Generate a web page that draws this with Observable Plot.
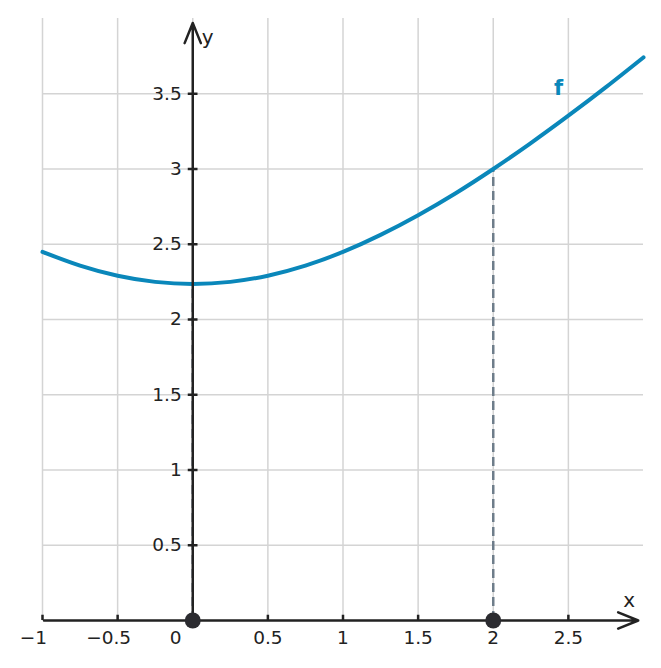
<!DOCTYPE html>
<html>
<head>
<meta charset="utf-8">
<script src="https://cdn.jsdelivr.net/npm/d3@7"></script>
<script src="https://cdn.jsdelivr.net/npm/@observablehq/plot@0.6"></script>
<style>
  html, body { margin: 0; padding: 0; background: #fff; }
</style>
</head>
<body>
<div id="chart"></div>
<script>
// Curve samples
const fx = [-1, -0.75, -0.5, -0.25, 0, 0.25, 0.5, 0.75, 1, 1.25, 1.5, 1.75, 2, 2.25, 2.5, 2.75, 3];
const fy = [2.449, 2.358, 2.291, 2.250, 2.236, 2.250, 2.291, 2.358, 2.449, 2.562, 2.693, 2.839, 3.0, 3.172, 3.354, 3.544, 3.742];

const xGrid = [-1, -0.5, 0, 0.5, 1, 1.5, 2, 2.5];
const yGrid = [0.5, 1, 1.5, 2, 2.5, 3, 3.5];
const xTicks = [-1, -0.5, 0.5, 1, 1.5, 2.5];
const xTickLabels = [-1, -0.5, 0, 0.5, 1, 1.5, 2, 2.5];
const yTicks = [0.5, 1, 1.5, 2, 2.5, 3, 3.5];
const pointsX = [0, 2];
const dropX = [0, 2];
const dropY = [2.236, 3.0];

const curve = fx.map((x, i) => ({x, y: fy[i]}));
const drops = dropX.map((x, i) => ({x, y: dropY[i]}));

const blue = "#0a87ba";
const ink = "#222222";
const fmt = d => (d < 0 ? "\u2212" + String(-d) : String(d));

const chart = Plot.plot({
  width: 661,
  height: 668,
  marginLeft: 42,
  marginRight: 18,
  marginTop: 18,
  marginBottom: 48,
  x: {domain: [-1, 3], axis: null},
  y: {domain: [0, 4], axis: null},
  style: {fontFamily: "DejaVu Sans, sans-serif", background: "#fff", overflow: "visible"},
  marks: [
    Plot.ruleX(xGrid, {x: d => d, stroke: "#d4d4d4", strokeWidth: 1.5}),
    Plot.ruleY(yGrid, {y: d => d, stroke: "#d4d4d4", strokeWidth: 1.5}),
    Plot.ruleX(drops, {x: "x", y1: 0, y2: "y", stroke: "#6e7d8a", strokeWidth: 2.5, strokeDasharray: "9,5"}),
    Plot.line(curve, {x: "x", y: "y", stroke: blue, strokeWidth: 4, curve: "natural"}),
    Plot.arrow([{x1: -0.99, y1: 0, x2: 2.965, y2: 0}], {x1: "x1", y1: "y1", x2: "x2", y2: "y2", stroke: ink, strokeWidth: 2.5, headLength: 13, headAngle: 44}),
    Plot.arrow([{x1: 0, y1: 0, x2: 0, y2: 3.97}], {x1: "x1", y1: "y1", x2: "x2", y2: "y2", stroke: ink, strokeWidth: 2.5, headLength: 13, headAngle: 44}),
    Plot.ruleX(xTicks, {x: d => d, y1: 0, y2: 0.035, stroke: ink, strokeWidth: 2.5}),
    Plot.ruleY(yTicks, {y: d => d, x1: -0.03, x2: 0.035, stroke: ink, strokeWidth: 2.5}),
    Plot.dot(pointsX, {x: d => d, y: 0, r: 8, fill: "#2b2b30", stroke: "none"}),
    Plot.text(xTickLabels, {x: d => d, y: 0, text: fmt, dy: 18, fontSize: 18.5, fill: ink, textAnchor: "middle"}),
    Plot.text(yTicks, {x: 0, y: d => d, text: fmt, dx: -11, fontSize: 18.5, fill: ink, textAnchor: "end"}),
    Plot.text(["f"], {x: 2.435, y: 3.535, text: d => d, fontSize: 21, fontWeight: "bold", fill: blue}),
    Plot.text(["y"], {x: 0.1, y: 3.87, text: d => d, fontSize: 20, fill: ink}),
    Plot.text(["x"], {x: 2.905, y: 0.13, text: d => d, fontSize: 20, fill: ink})
  ]
});

// shift label positions for the minus sign and the origin label
d3.select(chart).selectAll("text").each(function() {
  const t = this.textContent;
  const anchor = this.getAttribute("text-anchor") || (this.parentNode && this.parentNode.getAttribute("text-anchor"));
  if (t === "0" && anchor !== "end") {
    this.setAttribute("dx", -17);
  } else if (t.startsWith("\u2212")) {
    this.setAttribute("dx", -9);
  }
});

document.getElementById("chart").appendChild(chart);
</script>
</body>
</html>
